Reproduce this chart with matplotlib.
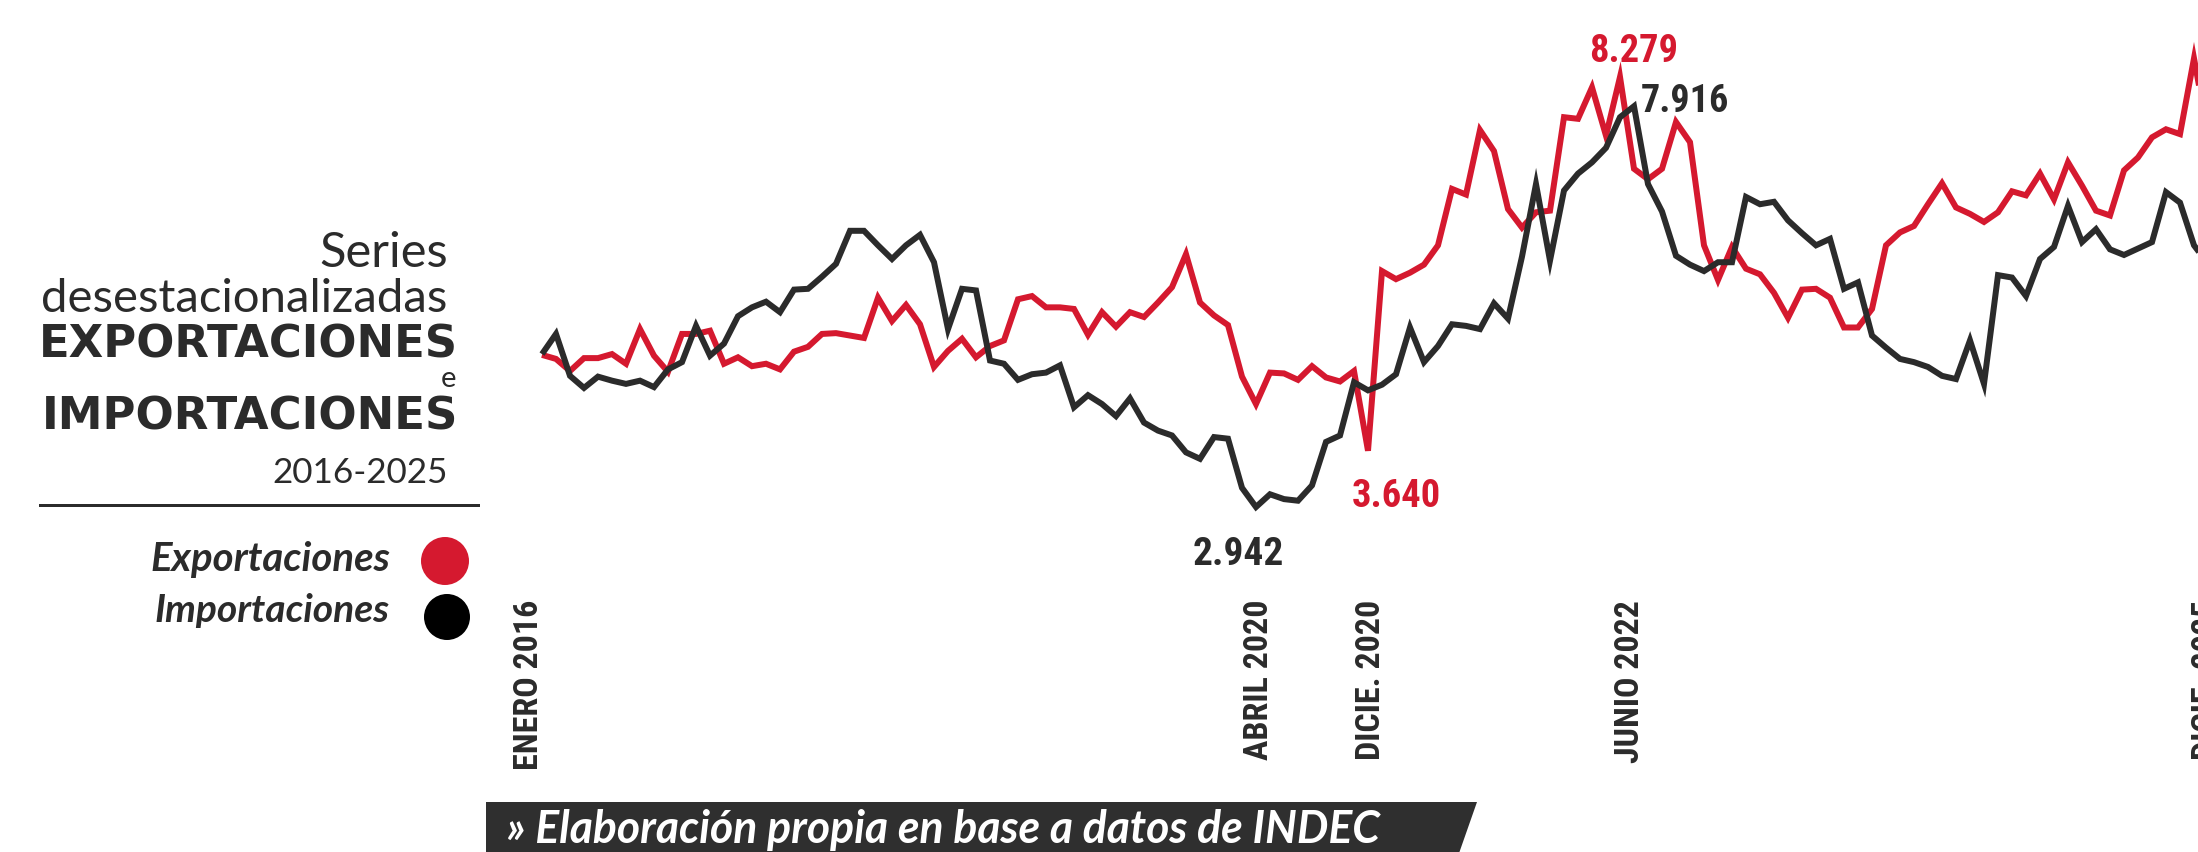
import numpy as np
import matplotlib
matplotlib.use("Agg")
import matplotlib.pyplot as plt
from matplotlib import font_manager as fm
from matplotlib.patches import Polygon, Circle
from matplotlib.lines import Line2D

# ---------------- data (miles de millones de USD, series desestacionalizadas) ----------------
month_index = list(range(120))  # enero 2016 ... diciembre 2025

exportaciones = [
    4.83, 4.78, 4.63, 4.79, 4.79, 4.84, 4.72, 5.15, 4.82, 4.62, 5.09, 5.09,   # 2016
    5.13, 4.72, 4.80, 4.69, 4.72, 4.65, 4.87, 4.93, 5.09, 5.10, 5.07, 5.04,   # 2017
    5.54, 5.25, 5.45, 5.21, 4.68, 4.88, 5.03, 4.80, 4.94, 5.01, 5.52, 5.56,   # 2018
    5.42, 5.42, 5.40, 5.08, 5.36, 5.18, 5.36, 5.30, 5.48, 5.67, 6.08, 5.48,   # 2019
    5.32, 5.20, 4.56, 4.22, 4.61, 4.60, 4.52, 4.69, 4.55, 4.50, 4.63, 3.640,  # 2020
    5.87, 5.77, 5.85, 5.95, 6.19, 6.89, 6.82, 7.62, 7.36, 6.64, 6.41, 6.60,   # 2021
    6.62, 7.78, 7.76, 8.15, 7.55, 8.279, 7.14, 7.01, 7.14, 7.72, 7.47, 6.19,  # 2022
    5.76, 6.17, 5.90, 5.83, 5.60, 5.29, 5.64, 5.65, 5.54, 5.17, 5.17, 5.40,   # 2023
    6.19, 6.35, 6.43, 6.70, 6.96, 6.66, 6.58, 6.48, 6.60, 6.86, 6.81, 7.08,   # 2024
    6.76, 7.22, 6.93, 6.62, 6.56, 7.12, 7.28, 7.53, 7.63, 7.57, 8.51, 7.57,   # 2025
]

importaciones = [
    4.84, 5.09, 4.57, 4.42, 4.56, 4.51, 4.47, 4.51, 4.43, 4.65, 4.74, 5.19,   # 2016
    4.82, 4.97, 5.31, 5.42, 5.49, 5.36, 5.64, 5.65, 5.80, 5.96, 6.37, 6.37,   # 2017
    6.19, 6.02, 6.19, 6.32, 5.98, 5.15, 5.65, 5.63, 4.76, 4.72, 4.52, 4.59,   # 2018
    4.61, 4.70, 4.18, 4.33, 4.22, 4.07, 4.29, 3.99, 3.89, 3.83, 3.62, 3.54,   # 2019
    3.81, 3.79, 3.18, 2.942, 3.10, 3.04, 3.02, 3.21, 3.75, 3.83, 4.49, 4.39,  # 2020
    4.46, 4.59, 5.17, 4.74, 4.94, 5.21, 5.19, 5.15, 5.47, 5.28, 6.05, 6.95,   # 2021
    6.00, 6.87, 7.08, 7.22, 7.40, 7.78, 7.916, 6.95, 6.61, 6.06, 5.95, 5.87,  # 2022
    5.98, 5.98, 6.79, 6.70, 6.73, 6.50, 6.34, 6.19, 6.27, 5.65, 5.73, 5.07,   # 2023
    4.92, 4.78, 4.74, 4.68, 4.57, 4.53, 5.01, 4.47, 5.82, 5.79, 5.56, 6.02,   # 2024
    6.17, 6.68, 6.23, 6.39, 6.14, 6.07, 6.15, 6.23, 6.85, 6.72, 6.19, 5.96,   # 2025
]

tick_months = [0, 51, 59, 77, 119]
tick_labels = ["ENERO 2016", "ABRIL 2020", "DICIE. 2020", "JUNIO 2022", "DICIE. 2025"]

# highlighted points: (series name, month index)
highlights = [("exp", 77), ("imp", 78), ("imp", 51), ("exp", 59)]

# ---------------- styling ----------------
RED = "#d5192f"
DARK = "#2b2b2b"
W, H, DPI = 2198, 853, 100

names = {f.name for f in fm.fontManager.ttflist}


def pick(*cands):
    for c in cands:
        if c in names:
            return c
    return "DejaVu Sans"


LIGHT = pick("Lato", "Open Sans", "Roboto", "Noto Sans")
HEAVY = "DejaVu Sans"
ITAL = pick("Lato", "Open Sans", "Roboto", "Noto Sans")
COND = pick("Roboto Condensed", "Liberation Sans Narrow")
COND_KW = dict(family=COND, weight="bold")
if COND == "DejaVu Sans":
    COND_KW["stretch"] = "condensed"

fig = plt.figure(figsize=(W / DPI, H / DPI), dpi=DPI)
fig.patch.set_facecolor("white")
renderer = fig.canvas.get_renderer()


def px(x, y):
    return x / W, 1 - y / H


def fit_text(s, x, y, target_w, target_h=None, ha="left", va="baseline", size0=20, **kw):
    """Size a text so that its width (and optionally height) matches the reference."""
    t = fig.text(*px(x, y), s, ha=ha, va=va, fontsize=size0, **kw)
    bb = t.get_window_extent(renderer)
    k = target_w / bb.width
    if target_h is not None:
        k = 0.5 * (k + target_h / bb.height)
    t.set_fontsize(size0 * k)
    return t


# ---------------- chart axes (full figure, calibrated) ----------------
x0_px, px_month = 542.0, 14.0
y_ref_px, v_ref, px_unit = 78.0, 8.279, 80.57
ax = fig.add_axes([0, 0, 1, 1])
ax.set_xlim(-x0_px / px_month, (W - x0_px) / px_month)
ax.set_ylim(v_ref - (H - y_ref_px) / px_unit, v_ref + y_ref_px / px_unit)
ax.axis("off")

lw = 6 * 72 / DPI
ax.plot(month_index, exportaciones, color=RED, lw=lw, solid_joinstyle="miter", solid_capstyle="butt", zorder=2)
ax.plot(month_index, importaciones, color=DARK, lw=lw, solid_joinstyle="miter", solid_capstyle="butt", zorder=3)

# ---------------- value labels ----------------
series = {"exp": (exportaciones, RED), "imp": (importaciones, DARK)}
label_pos = {  # (center x px, baseline y px, width px)
    ("exp", 77): (1634, 62, 88),
    ("imp", 78): (1685, 112, 86),
    ("imp", 51): (1238, 565, 92),
    ("exp", 59): (1396, 507, 88),
}
for key in highlights:
    vals, col = series[key[0]]
    s = f"{vals[key[1]]:.3f}"
    cx, by, w = label_pos[key]
    fit_text(s, cx, by, w, target_h=38, ha="center", color=col, **COND_KW)

# ---------------- x labels ----------------
label_x_px = [529, 1259, 1371, 1630, 2207]
probe = fig.text(0.5, 0.5, tick_labels[0], rotation=90, fontsize=20, **COND_KW)
bb = probe.get_window_extent(renderer)
hsz = 20 * 170 / bb.height
probe.remove()
for xp, lab in zip(label_x_px, tick_labels):
    fig.text(*px(xp, 600), lab, rotation=90, ha="center", va="top",
             fontsize=hsz, color=DARK, **COND_KW)

# ---------------- title block ----------------
fit_text("Series", 448, 267, 129, ha="right", family=LIGHT, weight="normal", color=DARK)
fit_text("desestacionalizadas", 447, 312, 407, ha="right", family=LIGHT, weight="normal", color=DARK)
fit_text("EXPORTACIONES", 458, 358, 418, ha="right", family=HEAVY, weight="bold", color=DARK)
fig.text(*px(448, 387), "e", ha="center", va="baseline", fontsize=21, family=LIGHT, weight="normal", color=DARK)
fit_text("IMPORTACIONES", 458, 430, 415, ha="right", family=HEAVY, weight="bold", color=DARK)
fit_text("2016-2025", 448, 483, 176, ha="right", family=LIGHT, weight="normal", color=DARK)
fig.add_artist(Line2D([40 / W, 478 / W], [1 - 506 / H, 1 - 506 / H], transform=fig.transFigure,
                      color=DARK, lw=3 * 72 / DPI))

# legend
fit_text("Exportaciones", 390, 571, 240, ha="right", family=ITAL, style="italic", weight="bold", color=DARK)
fit_text("Importaciones", 390, 622, 235, ha="right", family=ITAL, style="italic", weight="bold", color=DARK)
fig.add_artist(Circle((445 / DPI, (H - 562) / DPI), 24 / DPI, transform=fig.dpi_scale_trans,
                      facecolor=RED, edgecolor="none"))
fig.add_artist(Circle((447 / DPI, (H - 618) / DPI), 23 / DPI, transform=fig.dpi_scale_trans,
                      facecolor="black", edgecolor="none"))

# ---------------- source banner ----------------
banner = Polygon([px(486, 860), px(486, 803), px(1477, 803), px(1457, 860)], closed=True,
                 transform=fig.transFigure, facecolor="#2f2f2f", edgecolor="none")
fig.add_artist(banner)
fit_text("» Elaboración propia en base a datos de INDEC", 507, 843, 874, ha="left",
         family=ITAL, style="italic", weight="bold", color="white")

fig.savefig("out.png", dpi=DPI, facecolor="white")
